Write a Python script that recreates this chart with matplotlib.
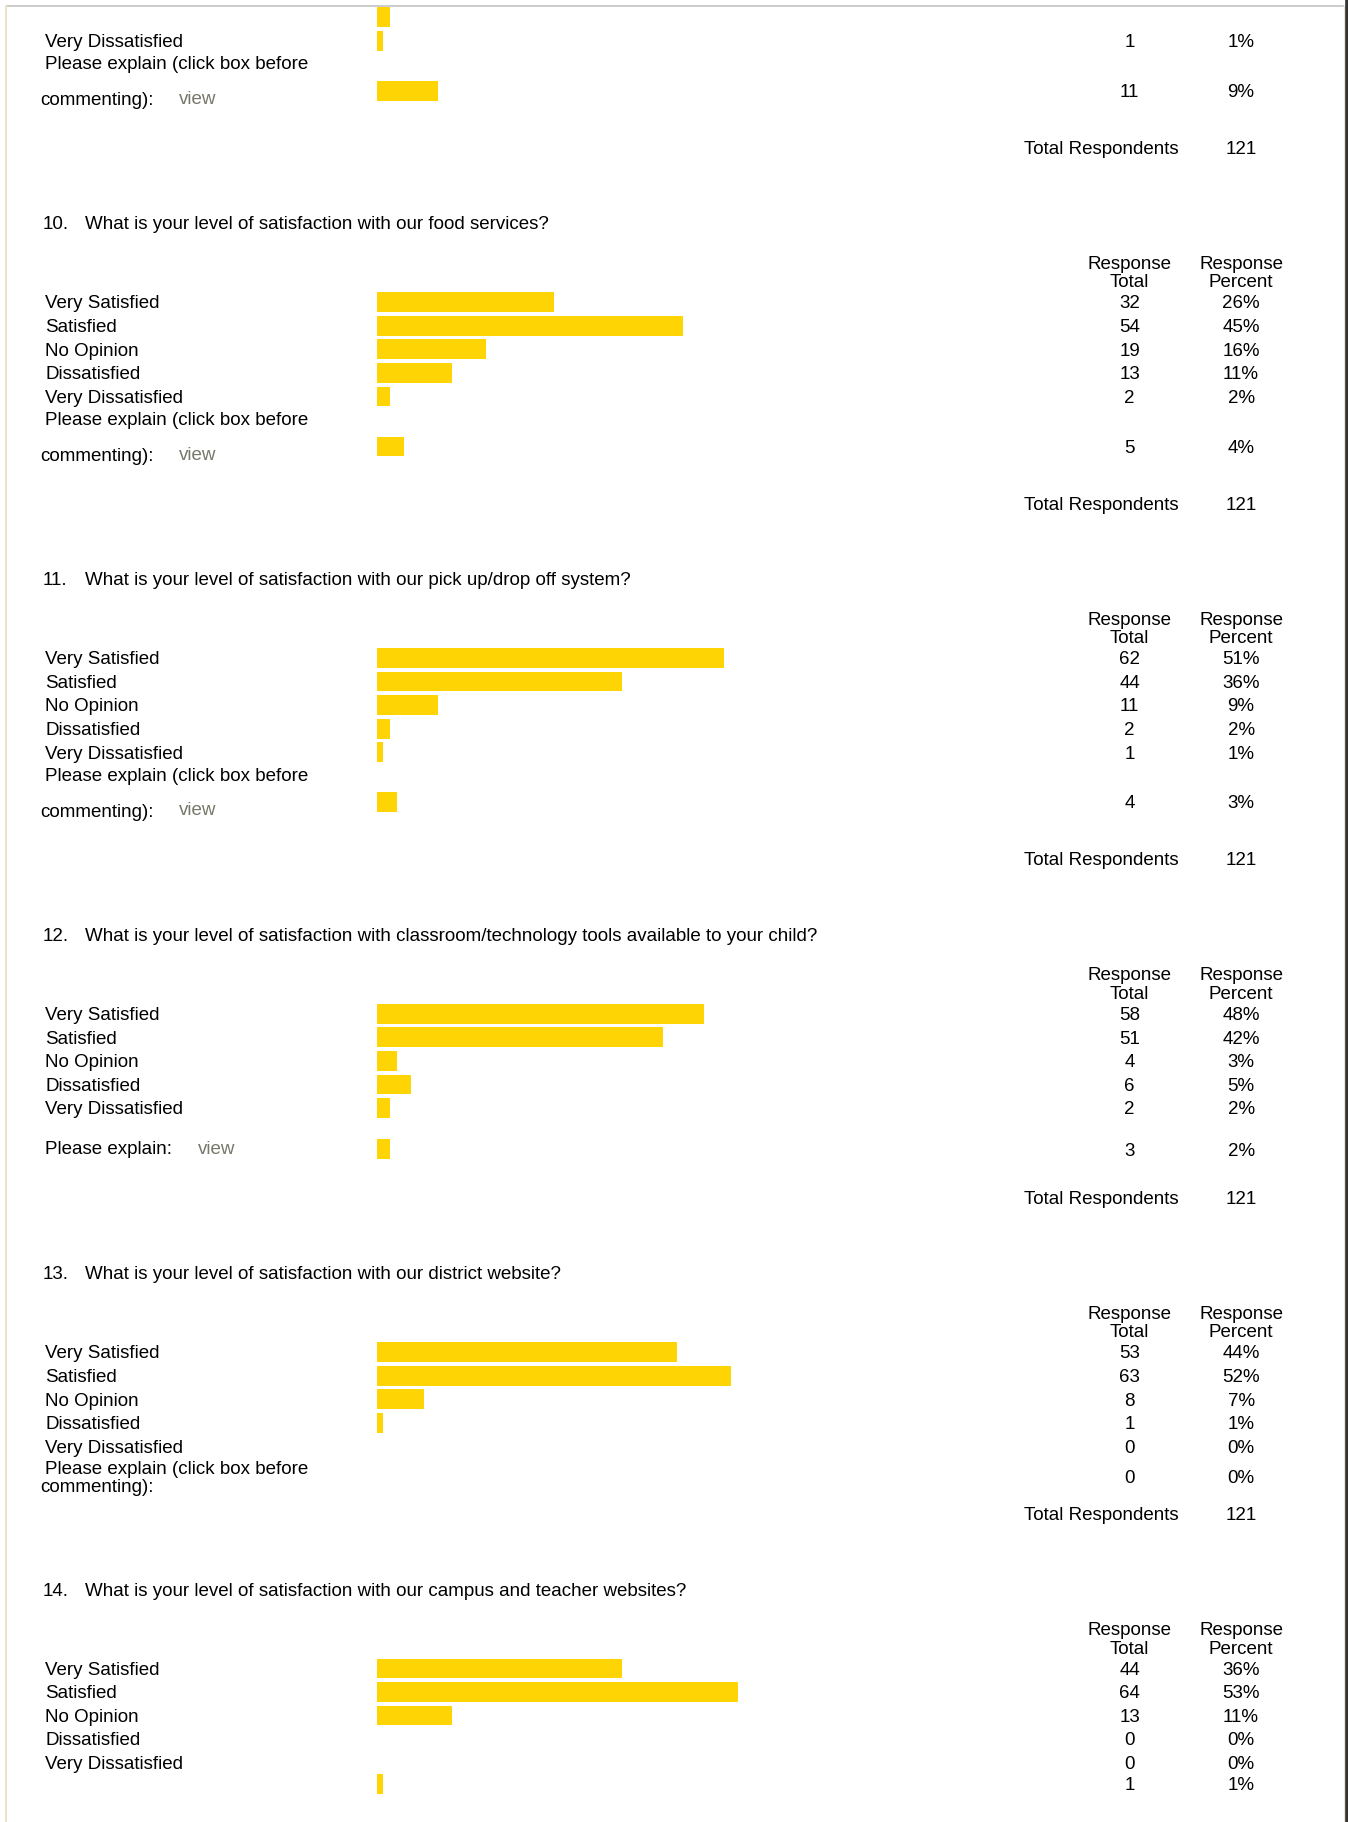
import matplotlib
matplotlib.use("Agg")
import matplotlib.pyplot as plt

plt.rcParams['font.family'] = ['Liberation Sans', 'DejaVu Sans']

FONT_SIZE = 13.5
BAR_COLOR = "#FFD405"
VIEW_COLOR = "#77776a"
TOTAL_RESPONDENTS = 121

CHOICES = ["Very Satisfied", "Satisfied", "No Opinion", "Dissatisfied", "Very Dissatisfied"]

# question 9 (only its tail is on the page, first row is cut off)
q9_counts = [3, 1, 11]
q9_pcts = [2, 1, 9]

q10_title = ("10.", "What is your level of satisfaction with our food services?")
q10_counts = [32, 54, 19, 13, 2, 5]
q10_pcts = [26, 45, 16, 11, 2, 4]

q11_title = ("11.", "What is your level of satisfaction with our pick up/drop off system?")
q11_counts = [62, 44, 11, 2, 1, 4]
q11_pcts = [51, 36, 9, 2, 1, 3]

q12_title = ("12.", "What is your level of satisfaction with classroom/technology tools available to your child?")
q12_counts = [58, 51, 4, 6, 2, 3]
q12_pcts = [48, 42, 3, 5, 2, 2]

q13_title = ("13.", "What is your level of satisfaction with our district website?")
q13_counts = [53, 63, 8, 1, 0, 0]
q13_pcts = [44, 52, 7, 1, 0, 0]

q14_title = ("14.", "What is your level of satisfaction with our campus and teacher websites?")
q14_counts = [44, 64, 13, 0, 0, 1]
q14_pcts = [36, 53, 11, 0, 0, 1]

# layout (page units, the page is 1160 x 1568)
W, H = 1160, 1568
LABEL_X = 39
BAR_X = 324
BAR_FULL = 587          # bar length for 100 %
BAR_H = 17
TOTAL_X = 972
PCT_X = 1068
ROW_STEP = 20.3
TEXT_DY = 1.5           # text sits a bit lower than the bar centre


def txt(ax, x, y, s, ha="left", color="black"):
    ax.text(x, y + TEXT_DY, s, ha=ha, va="center", fontsize=FONT_SIZE, color=color)


def bar(ax, y, pct):
    if pct > 0:
        ax.barh([y], [pct / 100 * BAR_FULL], left=BAR_X,
                height=BAR_H, color=BAR_COLOR, linewidth=0)


def numbers(ax, y, count, pct):
    txt(ax, TOTAL_X, y, str(count), ha="center")
    txt(ax, PCT_X, y, f"{pct}%", ha="center")


def section(ax, top, title, labels, counts, pcts, explain):
    if title:
        txt(ax, 37, top, title[0])
        txt(ax, 73, top, title[1])
        txt(ax, TOTAL_X, top + 34, "Response", ha="center")
        txt(ax, TOTAL_X, top + 50, "Total", ha="center")
        txt(ax, PCT_X, top + 34, "Response", ha="center")
        txt(ax, PCT_X, top + 50, "Percent", ha="center")

    y = top + 68
    n = len(labels)
    for i, lab in enumerate(labels):
        y = top + 68 + i * ROW_STEP
        bar(ax, y, pcts[i])
        if lab is None:
            continue
        txt(ax, LABEL_X, y, lab)
        numbers(ax, y, counts[i], pcts[i])
    last = y

    c, p = counts[n], pcts[n]
    if explain == "long_view":
        ey = last + 19
        txt(ax, LABEL_X, ey, "Please explain (click box before")
        txt(ax, 35, ey + 31, "commenting):")
        txt(ax, 154, ey + 30, "view", color=VIEW_COLOR)
        bar(ax, ey + 24, p)
        numbers(ax, ey + 24, c, p)
        total_y = ey + 73
    elif explain == "short_view":
        ey = last + 34
        txt(ax, LABEL_X, ey, "Please explain:")
        txt(ax, 170, ey, "view", color=VIEW_COLOR)
        bar(ax, ey + 1, p)
        numbers(ax, ey + 2, c, p)
        total_y = ey + 43
    elif explain == "long_noview":
        ey = last + 18
        txt(ax, LABEL_X, ey, "Please explain (click box before")
        txt(ax, 35, ey + 16, "commenting):")
        numbers(ax, ey + 8, c, p)
        total_y = ey + 40
    else:
        ey = last + 18
        bar(ax, ey, p)
        numbers(ax, ey, c, p)
        return None

    txt(ax, 881, total_y, "Total Respondents")
    txt(ax, PCT_X, total_y, str(TOTAL_RESPONDENTS), ha="center")
    return total_y + 65


fig = plt.figure(figsize=(13.48, 18.22), dpi=100)
ax = fig.add_axes([0, 0, 1, 1])
ax.set_xlim(0, W)
ax.set_ylim(H, 0)
ax.axis("off")

# page frame
ax.plot([6, 1156], [5, 5], color="#c4c4c4", lw=1.2)
ax.plot([5, 5], [5, H], color="#eee2c8", lw=1.5)
ax.plot([1157, 1157], [5, H], color="#eee2c8", lw=1.2)
ax.plot([1159, 1159], [0, H], color="#333333", lw=2.6)

top = section(ax, 14.7 - 68, None, [None, "Very Dissatisfied"],
              q9_counts, q9_pcts, "long_view")
top = section(ax, top, q10_title, CHOICES, q10_counts, q10_pcts, "long_view")
top = section(ax, top, q11_title, CHOICES, q11_counts, q11_pcts, "long_view")
top = section(ax, top, q12_title, CHOICES, q12_counts, q12_pcts, "short_view")
top = section(ax, top, q13_title, CHOICES, q13_counts, q13_pcts, "long_noview")
section(ax, top, q14_title, CHOICES, q14_counts, q14_pcts, "none")

fig.savefig("out.png", dpi=100, facecolor="white")
